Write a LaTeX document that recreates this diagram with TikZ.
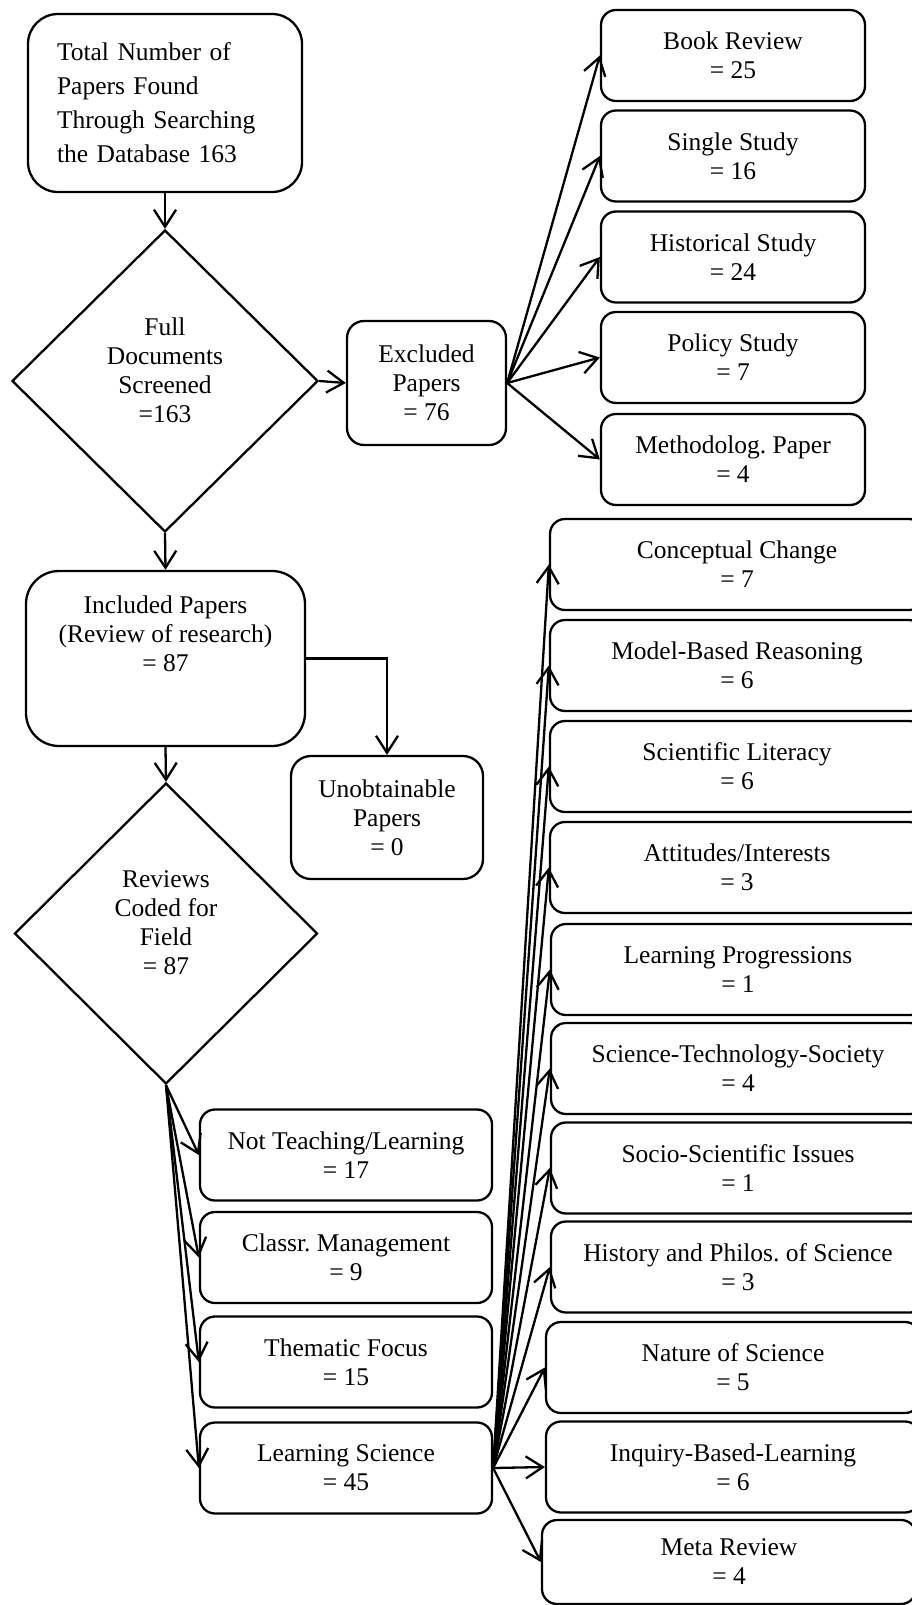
\documentclass[tikz,border=0pt]{standalone}
\usepackage{fontspec}
\setmainfont{Liberation Serif}
\usetikzlibrary{arrows.meta,shapes.geometric}

\begin{document}
\frenchspacing
\begin{tikzpicture}[x=1pt,y=1pt,yscale=-1,xscale=1,
	font=\fontsize{25.5}{29}\selectfont,
	box/.style={draw, line width=2.3pt, rounded corners=15pt, align=center, inner sep=0pt},
	exbox/.style={box, minimum width=264pt, minimum height=91pt},
	fieldbox/.style={box, minimum width=292pt, minimum height=91pt},
	topicbox/.style={box, minimum width=374pt, minimum height=91pt},
	decision/.style={draw, diamond, line width=2.3pt, minimum width=306pt, minimum height=302pt, inner sep=0pt},
	txt/.style={align=center, inner sep=0pt},
	conn/.style={line width=2.3pt, -{Straight Barb[length=17pt,width=22pt]}}]
	\useasboundingbox (0,0) rectangle (912,1605);
	\clip (0,0) rectangle (912,1605);

	% Text Node
	\node [box, rounded corners=30pt, minimum width=274pt, minimum height=178pt, align=left, text width=216pt, inner xsep=29pt, font=\fontsize{25.5}{34}\selectfont] (total) at (165,103) {Total Number of\\Papers Found\\Through Searching\\the Database 163};
	% Text Node
	\node [decision] (screen) at (165,381) {};
	\node [txt] (screentxt) at (165,370) {Full\\Documents\\Screened\\=163};
	% Text Node
	\node [box, rounded corners=17pt, minimum width=159pt, minimum height=124pt] (excl) at (426.5,383) {Excluded\\Papers\\= 76};
	% Text Node
	\node [exbox] (book) at (733,55.5) {Book Review\\= 25};
	\node [exbox] (single) at (733,156) {Single Study\\= 16};
	\node [exbox] (hist) at (733,257) {Historical Study\\= 24};
	\node [exbox] (policy) at (733,357.5) {Policy Study\\= 7};
	\node [exbox] (method) at (733,459.5) {Methodolog. Paper\\= 4};
	% Text Node
	\node [box, rounded corners=33pt, minimum width=279pt, minimum height=175pt] (incl) at (165.5,658.5) {};
	\node [txt] (incltxt) at (165.5,634) {Included Papers\\(Review of research)\\= 87};
	% Text Node
	\node [box, rounded corners=20pt, minimum width=192pt, minimum height=123pt] (unobt) at (387,817.5) {Unobtainable\\Papers\\= 0};
	% Text Node
	\node [decision, minimum width=303pt, minimum height=301pt] (coded) at (166,933.5) {};
	\node [txt] (codedtxt) at (166,923) {Reviews\\Coded for\\Field\\= 87};
	% Text Node
	\node [fieldbox] (notteach) at (346,1155) {Not Teaching/Learning\\= 17};
	\node [fieldbox] (classr) at (346,1257.5) {Classr. Management\\= 9};
	\node [fieldbox] (thematic) at (346,1362) {Thematic Focus\\= 15};
	\node [fieldbox] (learnsci) at (346,1468) {Learning Science\\= 45};
	% Text Node
	\node [topicbox] (concept) at (737,564.5) {Conceptual Change\\= 7};
	\node [topicbox] (model) at (737,665.5) {Model-Based Reasoning\\= 6};
	\node [topicbox] (literacy) at (737,766.5) {Scientific Literacy\\= 6};
	\node [topicbox] (attitude) at (737,867.5) {Attitudes/Interests\\= 3};
	\node [topicbox] (progress) at (738,969.5) {Learning Progressions\\= 1};
	\node [topicbox] (sts) at (738,1068.5) {Science-Technology-Society\\= 4};
	\node [topicbox] (ssi) at (738,1168) {Socio-Scientific Issues\\= 1};
	\node [topicbox] (hps) at (738,1267) {History and Philos. of Science\\= 3};
	\node [topicbox] (nos) at (733,1367.5) {Nature of Science\\= 5};
	\node [topicbox] (inquiry) at (733,1467) {Inquiry-Based-Learning\\= 6};
	\node [topicbox, minimum height=84pt] (meta) at (729,1562) {Meta Review\\= 4};

	% Connection
	\draw [conn] (total.south) -- (screen.north);
	\draw [conn] (screen.east) -- (excl.west);
	\draw [conn] (screen.south) -- (incl.north);
	\draw [conn] (incl.south) -- (coded.north);
	\draw [conn] (incl.east) -| (unobt.north);
	% Connection
	\draw [conn] (excl.east) -- (book.west);
	\draw [conn] (excl.east) -- (single.west);
	\draw [conn] (excl.east) -- (hist.west);
	\draw [conn] (excl.east) -- (policy.west);
	\draw [conn] (excl.east) -- (method.west);
	% Connection
	\draw [conn] (coded.south) -- (notteach.west);
	\draw [conn] (coded.south) -- (classr.west);
	\draw [conn] (coded.south) -- (thematic.west);
	\draw [conn] (coded.south) -- (learnsci.west);
	% Connection
	\draw [conn] (learnsci.east) -- (concept.west);
	\draw [conn] (learnsci.east) -- (model.west);
	\draw [conn] (learnsci.east) -- (literacy.west);
	\draw [conn] (learnsci.east) -- (attitude.west);
	\draw [conn] (learnsci.east) -- (progress.west);
	\draw [conn] (learnsci.east) -- (sts.west);
	\draw [conn] (learnsci.east) -- (ssi.west);
	\draw [conn] (learnsci.east) -- (hps.west);
	\draw [conn] (learnsci.east) -- (nos.west);
	\draw [conn] (learnsci.east) -- (inquiry.west);
	\draw [conn] (learnsci.east) -- (meta.west);

\end{tikzpicture}
\end{document}
